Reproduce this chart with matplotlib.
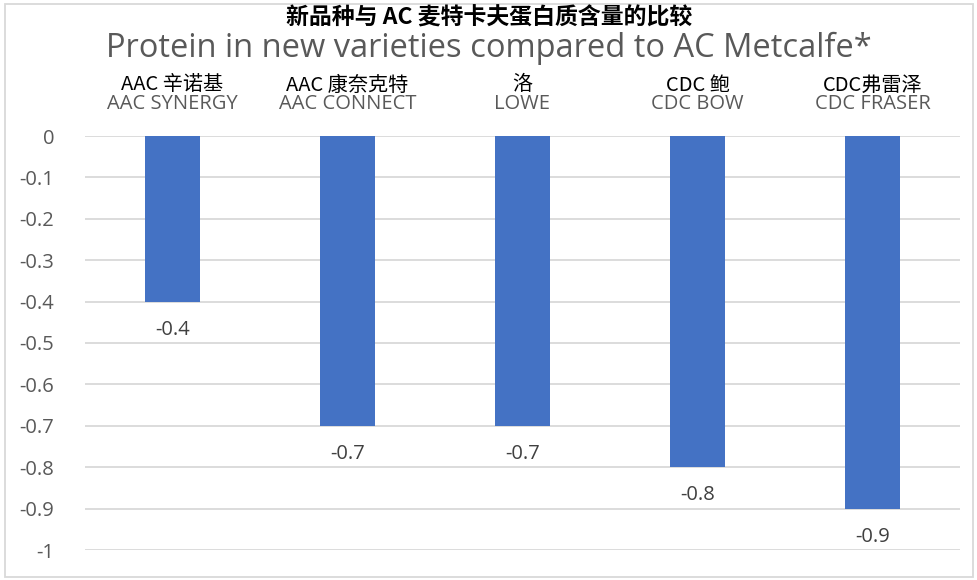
import matplotlib
matplotlib.use("Agg")
import matplotlib.pyplot as plt
from matplotlib.patches import Rectangle

# ── data ─────────────────────────────────────────────────────────────────────
varieties_en = ["AAC SYNERGY", "AAC CONNECT", "LOWE", "CDC BOW", "CDC FRASER"]
varieties_cn = ["AAC 辛诺基", "AAC 康奈克特", "洛", "CDC 鲍", "CDC弗雷泽"]
protein_diff = [-0.4, -0.7, -0.7, -0.8, -0.9]
y_ticks = [0, -0.1, -0.2, -0.3, -0.4, -0.5, -0.6, -0.7, -0.8, -0.9, -1]

title_cn = "新品种与 AC 麦特卡夫蛋白质含量的比较"
title_en = "Protein in new varieties compared to AC Metcalfe*"

_BLUE = "#4472c4"
_GRID = "#d9d9d9"
_TEXT = "#595959"
FONT = ["Open Sans", "Noto Sans CJK SC", "DejaVu Sans"]
CJK = ["Noto Sans CJK SC", "DejaVu Sans"]

W, H = 978, 580
fig = plt.figure(figsize=(W / 100, H / 100), dpi=100)
ax = fig.add_axes([85 / W, 1 - 550 / H, 875 / W, 414 / H])

x = list(range(len(protein_diff)))
ax.bar(x, protein_diff, width=0.315, color=_BLUE, zorder=3)
ax.set_xlim(-0.5, len(x) - 0.5)
ax.set_ylim(-1, 0)

ax.set_yticks(y_ticks)
ax.set_yticklabels([f"{t:g}" for t in y_ticks], family=FONT, fontsize=14.5, color=_TEXT)
ax.tick_params(axis="y", length=0, pad=22)
ax.set_xticks([])
ax.yaxis.grid(True, color=_GRID, linewidth=1.3, zorder=0)
ax.set_axisbelow(True)
for s in ax.spines.values():
    s.set_visible(False)
ax.margins(0)

# data labels under each bar
for xi, v in zip(x, protein_diff):
    ax.annotate(f"{v:g}", (xi, v), xytext=(0, -28), textcoords="offset pixels",
                ha="center", va="center", family=FONT, fontsize=14.5, color="#404040")

# category labels above the plot (Chinese over English)
for xi, cn, en in zip(x, varieties_cn, varieties_en):
    ax.annotate(en, (xi, 0), xytext=(0, 32), textcoords="offset pixels",
                ha="center", va="center", family=FONT, fontsize=14.5, color=_TEXT)
    ax.annotate(cn, (xi, 0), xytext=(0, 51), textcoords="offset pixels",
                ha="center", va="center", family=CJK, fontsize=14.5, color="black")

fig.text(0.5, 1 - 18 / H, title_cn, ha="center", va="center", family=CJK,
         fontsize=16.5, fontweight="bold", color="black")
fig.text(0.5, 1 - 48 / H, title_en, ha="center", va="center", family=FONT,
         fontsize=23.5, color=_TEXT)

fig.patches.append(Rectangle((5 / W, 3 / H), 968 / W, 573 / H, transform=fig.transFigure,
                             fill=False, edgecolor=_GRID, linewidth=1.3))

fig.savefig("out.png", dpi=100)
